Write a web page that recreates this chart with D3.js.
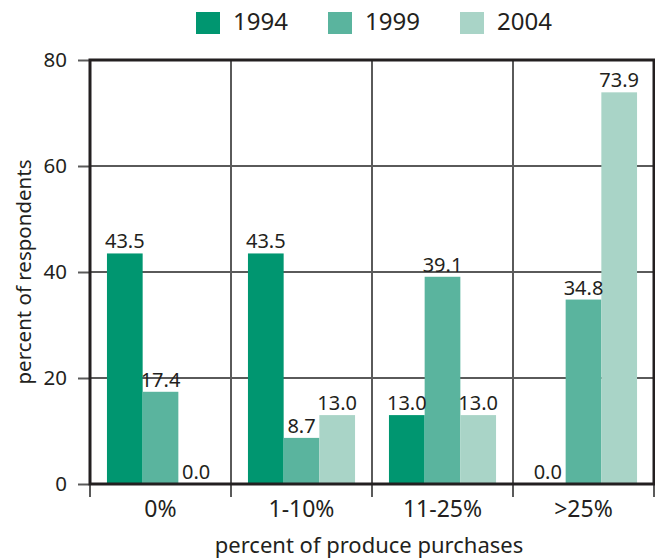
<!DOCTYPE html>
<html>
<head>
<meta charset="utf-8">
<script src="https://cdn.jsdelivr.net/npm/d3@7"></script>
<style>
  html, body { margin: 0; padding: 0; background: #fff; }
  svg { display: block; font-family: "Noto Sans", "Open Sans", sans-serif; }
</style>
</head>
<body>
<svg id="chart" width="655" height="560"></svg>
<script>
// Share of respondents by share of produce purchases, per survey year
const categories = ["0%", "1-10%", "11-25%", ">25%"];
const seriesNames = ["1994", "1999", "2004"];
const values1994 = [43.5, 43.5, 13.0, 0.0];
const values1999 = [17.4, 8.7, 39.1, 34.8];
const values2004 = [0.0, 13.0, 13.0, 73.9];
const yTicks = [0, 20, 40, 60, 80];
const seriesValues = [values1994, values1999, values2004];
const colors = ["#009670", "#5ab49e", "#a9d4c7"];
const ink = "#231f20";

const svg = d3.select("#chart");
const plotLeft = 90, plotRight = 654, plotTop = 60, plotBottom = 484;

const x0 = d3.scaleBand().domain(categories).range([plotLeft, plotRight]).padding(0);
const x1 = d3.scaleBand().domain(seriesNames).range([0, x0.bandwidth()])
  .paddingInner(0).paddingOuter(0.475);
const y = d3.scaleLinear().domain([0, 80]).range([plotBottom, plotTop]);

// horizontal gridlines
svg.append("g").selectAll("line").data(yTicks.filter(t => t > 0 && t < 80)).join("line")
  .attr("x1", plotLeft).attr("x2", plotRight)
  .attr("y1", d => y(d)).attr("y2", d => y(d))
  .attr("stroke", "#5a5a5a").attr("stroke-width", 2);

// vertical gridlines at the category boundaries
const bounds = categories.slice(1).map(c => x0(c));
svg.append("g").selectAll("line").data(bounds).join("line")
  .attr("x1", d => d).attr("x2", d => d)
  .attr("y1", plotTop).attr("y2", plotBottom)
  .attr("stroke", "#5a5a5a").attr("stroke-width", 2);

// bars
const rows = categories.map((c, i) => ({
  cat: c,
  items: seriesNames.map((s, j) => ({ s, j, v: seriesValues[j][i] }))
}));
const groups = svg.append("g").selectAll("g").data(rows).join("g")
  .attr("transform", d => `translate(${x0(d.cat)},0)`);
groups.selectAll("rect").data(d => d.items).join("rect")
  .attr("x", d => x1(d.s))
  .attr("width", x1.bandwidth())
  .attr("y", d => y(d.v))
  .attr("height", d => y(0) - y(d.v))
  .attr("fill", d => colors[d.j]);
groups.selectAll("text").data(d => d.items).join("text")
  .attr("x", d => x1(d.s) + x1.bandwidth() / 2)
  .attr("y", d => y(d.v) - 5)
  .attr("text-anchor", "middle")
  .attr("font-size", 20)
  .attr("fill", ink)
  .text(d => d3.format(".1f")(d.v));

// y axis ticks and labels
const yAxis = svg.append("g").attr("transform", `translate(${plotLeft},0)`)
  .call(d3.axisLeft(y).tickValues(yTicks).tickSize(12).tickPadding(11));
yAxis.select(".domain").remove();
yAxis.selectAll(".tick line").attr("stroke", "#5a5a5a").attr("stroke-width", 2);
yAxis.selectAll(".tick text").attr("font-size", 20.5).attr("fill", ink)
  .attr("font-family", "Noto Sans, sans-serif");

// x axis: ticks at the band edges, labels at band centres
const edges = categories.map(c => x0(c)).concat([plotRight]);
svg.append("g").selectAll("line").data(edges).join("line")
  .attr("x1", d => d).attr("x2", d => d)
  .attr("y1", plotBottom).attr("y2", plotBottom + 13)
  .attr("stroke", "#5a5a5a").attr("stroke-width", 2);
svg.append("g").selectAll("text").data(categories).join("text")
  .attr("x", d => x0(d) + x0.bandwidth() / 2)
  .attr("y", 517)
  .attr("text-anchor", "middle")
  .attr("font-size", 23)
  .attr("fill", ink)
  .text(d => d);

// plot frame
svg.append("rect")
  .attr("x", plotLeft).attr("y", plotTop)
  .attr("width", plotRight - plotLeft).attr("height", plotBottom - plotTop)
  .attr("fill", "none").attr("stroke", ink).attr("stroke-width", 3);

// axis titles
svg.append("text")
  .attr("x", 369).attr("y", 553)
  .attr("text-anchor", "middle").attr("font-size", 22).attr("fill", ink)
  .text("percent of produce purchases");
svg.append("text")
  .attr("transform", `translate(31,${(plotTop + plotBottom) / 2}) rotate(-90)`)
  .attr("text-anchor", "middle").attr("font-size", 20.5).attr("fill", ink)
  .text("percent of respondents");

// legend
const legendX = [196, 328, 460];
const legend = svg.append("g").selectAll("g").data(seriesNames).join("g")
  .attr("transform", (d, i) => `translate(${legendX[i]},12)`);
legend.append("rect").attr("width", 24).attr("height", 22)
  .attr("fill", (d, i) => colors[i]);
legend.append("text").attr("x", 37).attr("y", 18)
  .attr("font-size", 24).attr("fill", ink).text(d => d);
</script>
</body>
</html>
